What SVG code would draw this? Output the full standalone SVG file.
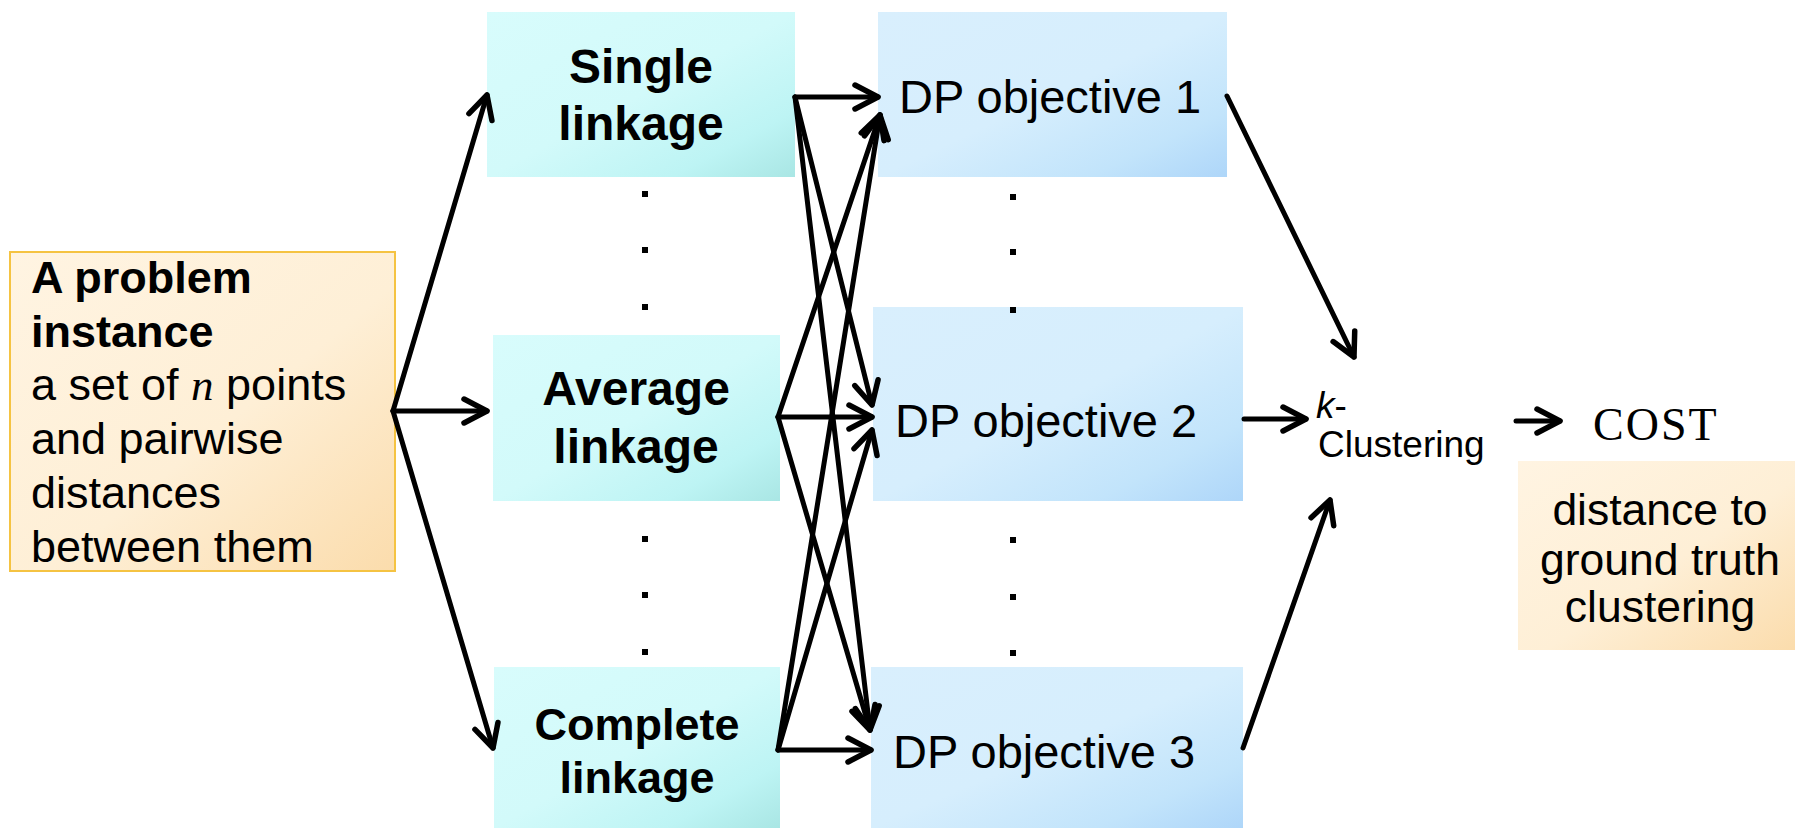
<svg xmlns="http://www.w3.org/2000/svg" width="1795" height="828" viewBox="0 0 1795 828">
  <defs>
    <linearGradient id="gCream" x1="0" y1="0" x2="1" y2="1">
      <stop offset="0" stop-color="#FFF4E2"/>
      <stop offset="0.55" stop-color="#FEEFD6"/>
      <stop offset="1" stop-color="#FBDCAC"/>
    </linearGradient>
    <linearGradient id="gCyan" x1="0" y1="0" x2="1" y2="1">
      <stop offset="0" stop-color="#D8FCFC"/>
      <stop offset="0.5" stop-color="#D2FAFA"/>
      <stop offset="0.8" stop-color="#BDF4F4"/>
      <stop offset="1" stop-color="#A9E6E4"/>
    </linearGradient>
    <linearGradient id="gBlue" x1="0" y1="0" x2="1" y2="1">
      <stop offset="0" stop-color="#D9EFFD"/>
      <stop offset="0.5" stop-color="#D6EEFD"/>
      <stop offset="0.8" stop-color="#C2E4FB"/>
      <stop offset="1" stop-color="#AED6F9"/>
    </linearGradient>
    <marker id="head" markerUnits="userSpaceOnUse" viewBox="-30 -17 34 34" refX="0" refY="0" markerWidth="34" markerHeight="34" orient="auto">
      <path d="M-23,-12 L0,0 L-23,12" fill="none" stroke="#000" stroke-width="5.5" stroke-linecap="round" stroke-linejoin="round"/>
    </marker>
    <style>
      .sans { font-family: "Liberation Sans", Arial, sans-serif; fill: #000; }
      .bold { font-weight: bold; }
      .link { font-size: 48px; font-weight: bold; text-anchor: middle; }
      .link.small { font-size: 45px; }
      .dp { font-size: 47px; }
      .edge { fill: none; stroke: #000; stroke-width: 5; stroke-linecap: round; marker-end: url(#head); }
      .dot { fill: #000; }
    </style>
  </defs>

  <rect width="1795" height="828" fill="#FFFFFF"/>

  <!-- input: problem instance -->
  <g id="instance">
    <rect x="10" y="252" width="385" height="319" fill="url(#gCream)" stroke="#F5C342" stroke-width="2"/>
    <text class="sans bold" x="31" y="293" font-size="45">A problem</text>
    <text class="sans bold" x="31" y="347" font-size="45">instance</text>
    <text class="sans" x="31" y="400" font-size="45">a set of <tspan font-family="'Liberation Serif', 'Times New Roman', serif" font-style="italic">n</tspan> points</text>
    <text class="sans" x="31" y="454" font-size="45">and pairwise</text>
    <text class="sans" x="31" y="508" font-size="45">distances</text>
    <text class="sans" x="31" y="562" font-size="45">between them</text>
  </g>

  <!-- linkage algorithms -->
  <g id="single-linkage">
    <rect x="487" y="12" width="308" height="165" fill="url(#gCyan)"/>
    <text class="sans link" x="641" y="83">Single</text>
    <text class="sans link" x="641" y="140">linkage</text>
  </g>
  <g id="average-linkage">
    <rect x="493" y="335" width="287" height="166" fill="url(#gCyan)"/>
    <text class="sans link" x="636" y="405">Average</text>
    <text class="sans link" x="636" y="463">linkage</text>
  </g>
  <g id="complete-linkage">
    <rect x="494" y="667" width="286" height="161" fill="url(#gCyan)"/>
    <text class="sans link small" x="637" y="740">Complete</text>
    <text class="sans link small" x="637" y="793">linkage</text>
  </g>
  <g id="linkage-ellipsis">
    <rect class="dot" x="642" y="191" width="6" height="6"/>
    <rect class="dot" x="642" y="247" width="6" height="6"/>
    <rect class="dot" x="642" y="304" width="6" height="6"/>
    <rect class="dot" x="642" y="536" width="6" height="6"/>
    <rect class="dot" x="642" y="592" width="6" height="6"/>
    <rect class="dot" x="642" y="649" width="6" height="6"/>
  </g>

  <!-- dynamic programming objectives -->
  <g id="dp-objective-1">
    <rect x="878" y="12" width="349" height="165" fill="url(#gBlue)"/>
    <text class="sans dp" x="899" y="113">DP objective 1</text>
  </g>
  <g id="dp-objective-2">
    <rect x="873" y="307" width="370" height="194" fill="url(#gBlue)"/>
    <text class="sans dp" x="895" y="437">DP objective 2</text>
  </g>
  <g id="dp-objective-3">
    <rect x="871" y="667" width="372" height="161" fill="url(#gBlue)"/>
    <text class="sans dp" x="893" y="768">DP objective 3</text>
  </g>
  <g id="dp-ellipsis">
    <rect class="dot" x="1010" y="194" width="6" height="6"/>
    <rect class="dot" x="1010" y="249" width="6" height="6"/>
    <rect class="dot" x="1010" y="307" width="6" height="6"/>
    <rect class="dot" x="1010" y="537" width="6" height="6"/>
    <rect class="dot" x="1010" y="594" width="6" height="6"/>
    <rect class="dot" x="1010" y="650" width="6" height="6"/>
  </g>

  <!-- output clustering -->
  <g id="k-clustering">
    <text class="sans" x="1316" y="418" font-size="37" font-style="italic">k<tspan font-style="normal">-</tspan></text>
    <text class="sans" x="1318" y="457" font-size="37">Clustering</text>
  </g>

  <!-- cost -->
  <g id="cost">
    <text x="1593" y="440" font-family="'Liberation Serif', 'Times New Roman', serif" font-size="46" letter-spacing="2" fill="#000">COST</text>
  </g>
  <g id="cost-note">
    <rect x="1518" y="461" width="277" height="189" fill="url(#gCream)"/>
    <text class="sans" x="1660" y="525" font-size="44.5" text-anchor="middle">distance to</text>
    <text class="sans" x="1660" y="575" font-size="44.5" text-anchor="middle">ground truth</text>
    <text class="sans" x="1660" y="622" font-size="44.5" text-anchor="middle">clustering</text>
  </g>

  <!-- connectors -->
  <g id="connectors">
    <!-- instance to linkages -->
    <line class="edge" x1="393" y1="411" x2="487" y2="95"/>
    <line class="edge" x1="393" y1="411" x2="487" y2="411"/>
    <line class="edge" x1="393" y1="411" x2="493" y2="748"/>
    <!-- single linkage to objectives -->
    <line class="edge" x1="795" y1="97" x2="878" y2="97"/>
    <line class="edge" x1="795" y1="97" x2="872" y2="405"/>
    <line class="edge" x1="795" y1="97" x2="870" y2="730"/>
    <!-- average linkage to objectives -->
    <line class="edge" x1="778" y1="417" x2="880" y2="115"/>
    <line class="edge" x1="778" y1="417" x2="872" y2="417"/>
    <line class="edge" x1="778" y1="417" x2="870" y2="730"/>
    <!-- complete linkage to objectives -->
    <line class="edge" x1="778" y1="750" x2="880" y2="115"/>
    <line class="edge" x1="778" y1="750" x2="872" y2="430"/>
    <line class="edge" x1="778" y1="750" x2="871" y2="750"/>
    <!-- objectives to clustering -->
    <line class="edge" x1="1227" y1="96" x2="1354" y2="357"/>
    <line class="edge" x1="1244" y1="419" x2="1306" y2="419"/>
    <line class="edge" x1="1243" y1="748" x2="1330" y2="500"/>
    <!-- clustering to cost -->
    <line class="edge" x1="1516" y1="421" x2="1560" y2="421"/>
  </g>
</svg>
